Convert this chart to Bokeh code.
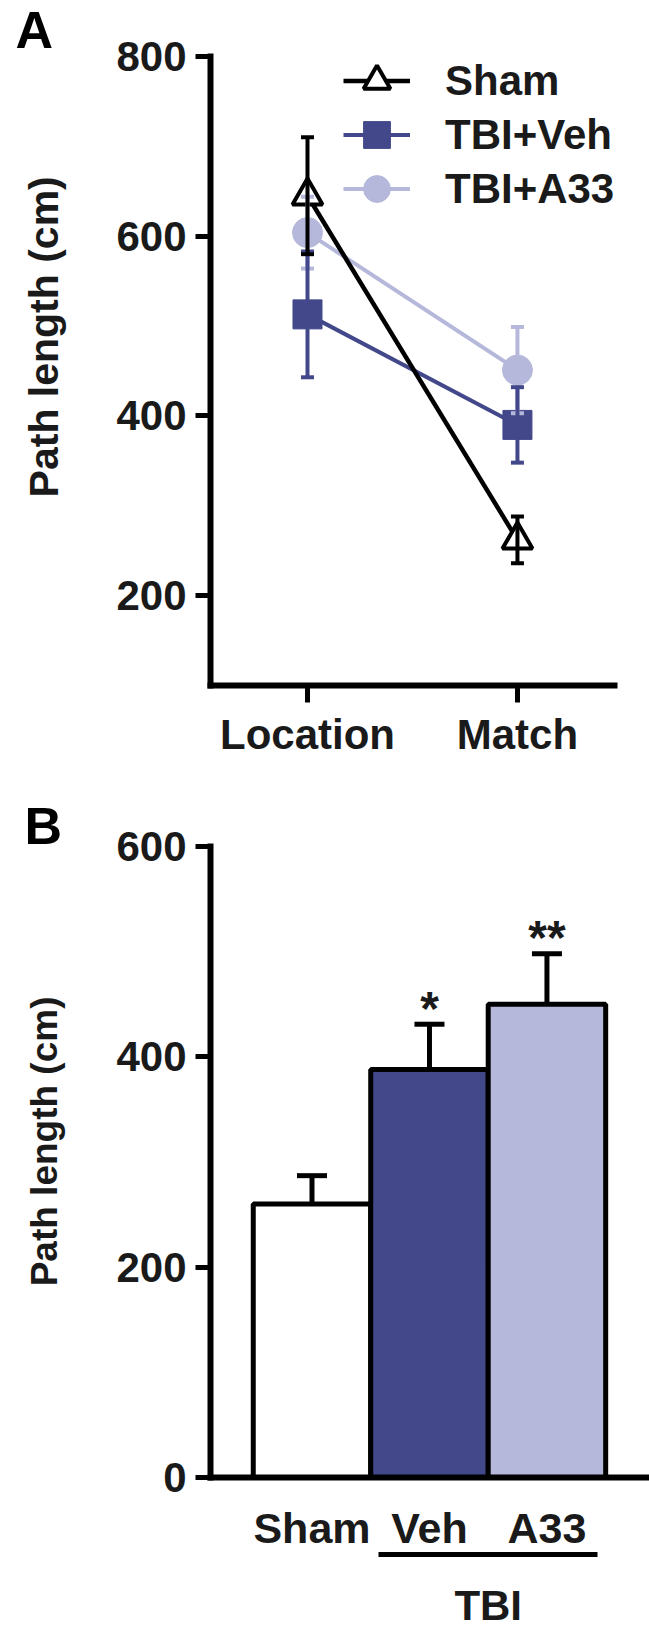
from bokeh.plotting import figure
from bokeh.models import (ColumnDataSource, Whisker, TeeHead, FixedTicker, Legend,
                          LegendItem, LinearAxis, Range1d, Title)
from bokeh.layouts import column
from bokeh.embed import file_html
from bokeh.resources import INLINE
from bokeh.core.properties import value

# ---------------- data ----------------
# Panel A: path length per phase
phases = ["Location", "Match"]
phase_pos = [0, 1]
sham_mean = [645, 262]
sham_sem = [65, 26]
veh_mean = [513, 390]
veh_sem = [70, 42]
a33_mean = [604, 451]
a33_sem = [40, 48]
a_yticks = [200, 400, 600, 800]
legend_order = ["Sham", "TBI+Veh", "TBI+A33"]

# Panel B: Match phase
groups = ["Sham", "Veh", "A33"]
group_pos = [0, 1, 2]
match_mean = [260, 388, 450]
match_sem = [27, 43, 48]
signif = ["", "*", "**"]
b_yticks = [0, 200, 400, 600]
tbi_label = "TBI"
tbi_groups = [1, 2]

y_title = "Path length (cm)"

DARK = "#43488a"
LIGHT = "#b5b8da"
FONT = "Liberation Sans"
NB = "\u00a0"


def style_axis(ax, size="42px", line_w=6):
    ax.axis_line_width = line_w
    ax.axis_line_color = "black"
    ax.axis_line_cap = "square"
    ax.major_tick_line_width = 5
    ax.major_tick_line_color = "black"
    ax.major_tick_in = 0
    ax.minor_tick_in = 0
    ax.minor_tick_out = 0
    ax.major_label_text_font = FONT
    ax.major_label_text_font_style = "bold"
    ax.major_label_text_font_size = size
    ax.major_label_text_color = "#1a1a1a"
    ax.axis_label_text_font = FONT
    ax.axis_label_text_font_style = "bold"
    ax.axis_label_text_font_size = "41px"
    ax.axis_label_text_color = "#1a1a1a"


def panel_title(letter, offset, standoff):
    return Title(text=letter, align="left", offset=offset, standoff=standoff,
                 text_font=FONT, text_font_style="bold",
                 text_font_size="52px", text_color="black")


# ---------------- Panel A ----------------
pa = figure(width=649, height=780, output_backend="svg", toolbar_location=None,
            x_range=Range1d(-0.462, 1.629), y_range=Range1d(100, 800),
            min_border_left=210, min_border_right=0, min_border_top=56,
            min_border_bottom=95)
pa.title = panel_title("A", -195, -4)
pa.grid.visible = False
pa.outline_line_color = None
pa.background_fill_color = "white"

style_axis(pa.yaxis[0])
pa.yaxis[0].ticker = FixedTicker(ticks=a_yticks)
pa.yaxis[0].major_tick_out = 15
pa.yaxis[0].major_label_standoff = 9
pa.yaxis[0].axis_label = NB * 6 + y_title
pa.yaxis[0].axis_label_standoff = 46

style_axis(pa.xaxis[0], size="42px")
pa.xaxis[0].ticker = FixedTicker(ticks=phase_pos)
pa.xaxis[0].major_label_overrides = {p: n for p, n in zip(phase_pos, phases)}
pa.xaxis[0].major_tick_out = 17
pa.xaxis[0].major_label_standoff = 8
pa.xaxis[0].bounds = (-0.462, 1.46)

series = [
    ("TBI+A33", a33_mean, a33_sem, LIGHT, "circle", LIGHT, 4, 30),
    ("TBI+Veh", veh_mean, veh_sem, DARK, "square", DARK, 4, 29),
    ("Sham", sham_mean, sham_sem, "black", "triangle", "white", 4.5, 30),
]
items = {}
for name, mean, sem, col, marker, fill, lw, msize in series:
    src = ColumnDataSource(dict(x=phase_pos, y=mean,
                                lo=[m - s for m, s in zip(mean, sem)],
                                hi=[m + s for m, s in zip(mean, sem)]))
    w = Whisker(source=src, base="x", lower="lo", upper="hi",
                line_color=col, line_width=4, level="glyph",
                lower_head=TeeHead(size=13, line_width=4, line_color=col),
                upper_head=TeeHead(size=13, line_width=4, line_color=col))
    pa.add_layout(w)
    ln = pa.line("x", "y", source=src, line_color=col, line_width=lw)
    sc = pa.scatter("x", "y", source=src, marker=marker, size=msize,
                    fill_color=fill, line_color=col,
                    line_width=4 if marker == "triangle" else 1)
    items[name] = [ln, sc]

# one single-item legend per row so that the legend markers can be large
for i, name in enumerate(legend_order):
    lg = Legend(items=[LegendItem(label=name, renderers=items[name])],
                location=(133, 567 - 54 * i), orientation="vertical",
                glyph_width=67, glyph_height=75, spacing=0, label_standoff=35,
                padding=0, margin=0, border_line_color=None, background_fill_alpha=0,
                label_text_font=FONT, label_text_font_style="bold",
                label_text_font_size="42px", label_text_color="#1a1a1a")
    pa.add_layout(lg)

# ---------------- Panel B ----------------
pb = figure(width=649, height=853, output_backend="svg", toolbar_location=None,
            x_range=Range1d(-0.864, 2.873), y_range=Range1d(0, 600),
            min_border_left=210, min_border_right=0, min_border_top=66,
            min_border_bottom=156)
pb.title = panel_title("B", -186, -16)
pb.grid.visible = False
pb.outline_line_color = None
pb.background_fill_color = "white"

style_axis(pb.yaxis[0])
pb.yaxis[0].ticker = FixedTicker(ticks=b_yticks)
pb.yaxis[0].major_tick_out = 15
pb.yaxis[0].major_label_standoff = 9
pb.yaxis[0].axis_label = NB * 4 + y_title
pb.yaxis[0].axis_label_text_font_size = "37px"
pb.yaxis[0].axis_label_standoff = 48

style_axis(pb.xaxis[0], size="43px")
pb.xaxis[0].ticker = FixedTicker(ticks=group_pos)
pb.xaxis[0].major_label_overrides = {p: n for p, n in zip(group_pos, groups)}
pb.xaxis[0].major_tick_out = 0
pb.xaxis[0].major_label_standoff = 26
pb.xaxis[0].major_label_text_line_height = 1.42

bsrc = ColumnDataSource(dict(x=group_pos, top=match_mean,
                             hi=[m + s for m, s in zip(match_mean, match_sem)],
                             color=["white", DARK, LIGHT], sig=signif))
wb = Whisker(source=bsrc, base="x", lower="top", upper="hi",
             line_color="black", line_width=5, level="underlay",
             lower_head=None,
             upper_head=TeeHead(size=30, line_width=5, line_color="black"))
pb.add_layout(wb)
pb.vbar(x="x", top="top", width=1.0, source=bsrc, fill_color="color",
        line_color="black", line_width=5)
pb.text(x="x", y="hi", text="sig", source=bsrc, text_align="center",
        text_baseline="alphabetic", y_offset=-16,
        text_font=value(FONT), text_font_style="bold",
        text_font_size="48px", text_color="#1a1a1a")

mid = sum(tbi_groups) / len(tbi_groups)
half = 0.932
tbi_axis = LinearAxis(bounds=(mid - half, mid + half),
                      ticker=FixedTicker(ticks=[mid]))
style_axis(tbi_axis, size="42px", line_w=5)
tbi_axis.axis_line_cap = "butt"
tbi_axis.major_tick_out = 0
tbi_axis.major_label_overrides = {mid: tbi_label}
tbi_axis.major_label_standoff = 27
tbi_axis.major_label_text_line_height = 1.0
pb.add_layout(tbi_axis, "below")

layout = column(pa, pb, spacing=0)
open("out.html", "w").write(file_html(layout, INLINE))
